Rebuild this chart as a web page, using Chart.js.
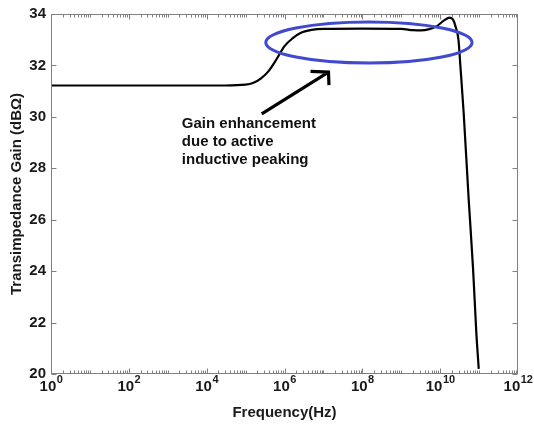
<!DOCTYPE html>
<html>
<head>
<meta charset="utf-8">
<script src="https://cdn.jsdelivr.net/npm/chart.js@4.4.1/dist/chart.umd.min.js"></script>
<style>
  html, body { margin: 0; padding: 0; background: #fff; }
  #wrap { width: 534px; height: 426px; }
</style>
</head>
<body>
<div id="wrap"><canvas id="gainChart"></canvas></div>
<script>
// Values
const freqHz = [1e0, 3e4, 1e5, 1.6e5, 2.5e5, 4e5, 6.3e5, 1e6, 1.6e6, 2.5e6, 5e6, 1e7, 1e8, 1e9,
                2e9, 3.2e9, 5e9, 8e9, 1.26e10, 1.75e10, 2.15e10, 2.5e10, 2.95e10, 3.3e10, 4e10,
                5.4e10, 7e10, 8.5e10, 9.8e10];
const gainDb = [31.22, 31.22, 31.25, 31.33, 31.5, 31.8, 32.25, 32.75, 33.05, 33.25, 33.38, 33.42, 33.43, 33.42,
                33.37, 33.36, 33.4, 33.52, 33.75, 33.86, 33.78, 33.5, 33.0, 32.0, 30.2,
                26.8, 24.1, 21.6, 20.2];

const yTicks = [20, 22, 24, 26, 28, 30, 32, 34];
const xTickExponents = [0, 2, 4, 6, 8, 10, 12];
const xTitle = 'Frequency(Hz)';
const yTitle = 'Transimpedance Gain (dB\u03A9)';
const noteLines = ['Gain enhancement', 'due to active', 'inductive peaking'];

// annotation anchors, in data units
const ring = { fromHz: 3.3e5, toHz: 6.6e10, lowDb: 32.09, highDb: 33.69 };
const arrow = { tailHz: 2.6e5, tailDb: 30.12, tipHz: 1.35e7, tipDb: 31.74 };
const note = { leftHz: 2.3e3, firstDb: 29.71, stepDb: 0.7 };

const FONT = "'Liberation Sans', Arial, sans-serif";

const framePlugin = {
    id: 'frame',
    afterDraw(chart) {
        const ctx = chart.ctx;
        const a = chart.chartArea;
        const xs = chart.scales.x;
        const ys = chart.scales.y;
        const L = Math.round(a.left) + 0.5, R = Math.round(a.right) - 0.5;
        const T = Math.round(a.top) + 0.5, B = Math.round(a.bottom) - 0.5;
        ctx.save();

        // box + inward ticks
        ctx.strokeStyle = '#808080';
        ctx.lineWidth = 1;
        ctx.strokeRect(L, T, R - L, B - T);
        ctx.beginPath();
        for (let e = 0; e < 12; e++) {
            for (let m = 1; m < 10; m++) {
                const px = Math.round(xs.getPixelForValue(m * Math.pow(10, e))) + 0.5;
                const len = (m === 1 && e % 2 === 0) ? 5 : 3;
                ctx.moveTo(px, B); ctx.lineTo(px, B - len);
                ctx.moveTo(px, T); ctx.lineTo(px, T + len);
            }
        }
        yTicks.forEach(v => {
            const py = Math.round(ys.getPixelForValue(v)) + 0.5;
            ctx.moveTo(L, py); ctx.lineTo(L + 5, py);
            ctx.moveTo(R, py); ctx.lineTo(R - 5, py);
        });
        ctx.stroke();

        // x tick labels 10^n
        ctx.fillStyle = '#1a1a1a';
        ctx.textBaseline = 'alphabetic';
        ctx.textAlign = 'left';
        xTickExponents.forEach(e => {
            const px = xs.getPixelForValue(Math.pow(10, e));
            ctx.font = 'bold 15px ' + FONT;
            const wBase = ctx.measureText('10').width;
            ctx.font = 'bold 11px ' + FONT;
            const wExp = ctx.measureText(String(e)).width;
            const x0 = px - (wBase + wExp) / 2;
            ctx.font = 'bold 15px ' + FONT;
            ctx.fillText('10', x0, 391);
            ctx.font = 'bold 11px ' + FONT;
            ctx.fillText(String(e), x0 + wBase + 0.5, 383);
        });

        // axis titles
        ctx.font = 'bold 15px ' + FONT;
        ctx.textAlign = 'center';
        ctx.textBaseline = 'middle';
        ctx.fillText(xTitle, (a.left + a.right) / 2, 413);
        ctx.save();
        ctx.translate(17, (a.top + a.bottom) / 2);
        ctx.rotate(-Math.PI / 2);
        ctx.fillText(yTitle, 0, 0);
        ctx.restore();

        // blue ring
        const x1 = xs.getPixelForValue(ring.fromHz), x2 = xs.getPixelForValue(ring.toHz);
        const y1 = ys.getPixelForValue(ring.highDb), y2 = ys.getPixelForValue(ring.lowDb);
        ctx.strokeStyle = '#4149cf';
        ctx.lineWidth = 3;
        ctx.beginPath();
        ctx.ellipse((x1 + x2) / 2, (y1 + y2) / 2, (x2 - x1) / 2, (y2 - y1) / 2, 0, 0, Math.PI * 2);
        ctx.stroke();

        // arrow
        const tx = xs.getPixelForValue(arrow.tailHz), ty = ys.getPixelForValue(arrow.tailDb);
        const hx = xs.getPixelForValue(arrow.tipHz), hy = ys.getPixelForValue(arrow.tipDb);
        const back = Math.atan2(ty - hy, tx - hx);
        ctx.strokeStyle = '#000';
        ctx.lineWidth = 3.2;
        ctx.lineCap = 'butt';
        ctx.beginPath();
        ctx.moveTo(tx, ty); ctx.lineTo(hx, hy);
        ctx.moveTo(hx + 18 * Math.cos(back + 0.6), hy + 18 * Math.sin(back + 0.6));
        ctx.lineTo(hx, hy);
        ctx.lineTo(hx + 13 * Math.cos(back - 1.05), hy + 13 * Math.sin(back - 1.05));
        ctx.stroke();

        // note text
        ctx.fillStyle = '#111';
        ctx.font = 'bold 15px ' + FONT;
        ctx.textAlign = 'left';
        ctx.textBaseline = 'middle';
        const nx = xs.getPixelForValue(note.leftHz);
        noteLines.forEach((line, i) => {
            ctx.fillText(line, nx, ys.getPixelForValue(note.firstDb - i * note.stepDb));
        });
        ctx.restore();
    }
};

new Chart(document.getElementById('gainChart'), {
    type: 'line',
    data: {
        datasets: [{
            data: freqHz.map((f, i) => ({ x: f, y: gainDb[i] })),
            borderColor: '#000',
            borderWidth: 2.2,
            pointRadius: 0,
            cubicInterpolationMode: 'monotone',
            fill: false
        }]
    },
    options: {
        responsive: true,
        maintainAspectRatio: false,
        animation: false,
        layout: { padding: { top: 13, right: 16, left: 0, bottom: 0 } },
        plugins: { legend: { display: false }, tooltip: { enabled: false } },
        scales: {
            x: {
                type: 'logarithmic',
                min: 1,
                max: 1e12,
                grid: { display: false, drawTicks: false },
                border: { display: false },
                ticks: { display: false },
                afterFit: s => { s.height = 52; }
            },
            y: {
                min: 20,
                max: 34,
                grid: { display: false, drawTicks: false },
                border: { display: false },
                afterBuildTicks: s => { s.ticks = yTicks.map(v => ({ value: v })); },
                ticks: {
                    padding: 5,
                    color: '#1a1a1a',
                    font: { family: FONT, size: 15, weight: 'bold' }
                },
                afterFit: s => { s.width = 51; }
            }
        }
    },
    plugins: [framePlugin]
});
</script>
</body>
</html>
